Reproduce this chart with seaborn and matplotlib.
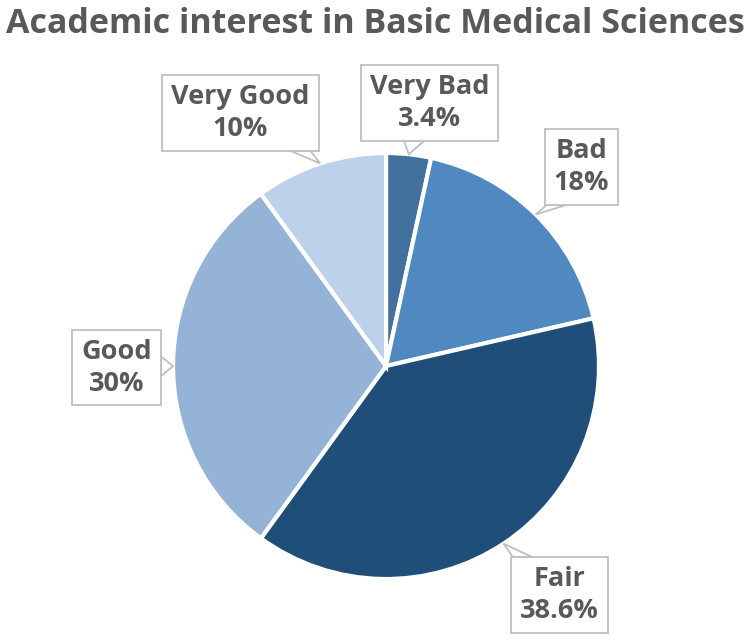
import numpy as np
import matplotlib
matplotlib.use("Agg")
import matplotlib.pyplot as plt
from matplotlib.patches import Polygon
import seaborn as sns

# slices, clockwise from 12 o'clock
categories = ["Very Bad", "Bad", "Fair", "Good", "Very Good"]
shares = [3.4, 18, 38.6, 30, 10]
pct_labels = ["3.4%", "18%", "38.6%", "30%", "10%"]
colors = ["#41719C", "#5089C0", "#1F4E79", "#95B3D7", "#BDD1EA"]

# callout box centres (data units, pie radius = 1)
box_pos = [(0.204, 1.235), (0.918, 0.935), (0.815, -1.077), (-1.265, -0.007), (-0.683, 1.188)]

TEXT = "#595959"
EDGE = "#BFBFBF"


def pointer(ax, box, tip, half=10):
    # triangle from the box side facing the tip, in pixels
    cx, cy = (box.x0 + box.x1) / 2, (box.y0 + box.y1) / 2
    hw, hh = box.width / 2, box.height / 2
    dx, dy = tip[0] - cx, tip[1] - cy
    tx = hw / abs(dx) if dx else np.inf
    ty = hh / abs(dy) if dy else np.inf
    if tx < ty:
        x = box.x1 if dx > 0 else box.x0
        y = np.clip(cy + tx * dy, box.y0 + half + 2, box.y1 - half - 2)
        base = [(x, y - half), (x, y + half)]
    else:
        y = box.y1 if dy > 0 else box.y0
        x = np.clip(cx + ty * dx, box.x0 + half + 2, box.x1 - half - 2)
        base = [(x - half, y), (x + half, y)]
    pts = ax.transData.inverted().transform(base + [tip])
    ax.add_patch(Polygon(pts, closed=True, fc="white", ec=EDGE, lw=1.3,
                         zorder=2, clip_on=False))


def main():
    sns.set_theme(style="white")
    plt.rcParams['font.family'] = ['Open Sans', 'DejaVu Sans']

    fig = plt.figure(figsize=(7.5, 6.4), dpi=100)
    # square axes so one data unit = 213 px
    ax = fig.add_axes([0.2307, 0.0953, 0.568, 0.6656])
    wedges, _ = ax.pie(shares, colors=colors, startangle=90, counterclock=False,
                       wedgeprops=dict(edgecolor="white", linewidth=3))
    ax.set_xlim(-1, 1)
    ax.set_ylim(-1, 1)
    ax.set_aspect("equal")
    ax.axis("off")

    labels = []
    for w, cat, lab, (bx, by) in zip(wedges, categories, pct_labels, box_pos):
        t = ax.text(bx, by, f"{cat}\n{lab}", ha="center", va="center",
                    fontsize=19.5, fontweight="bold", color=TEXT, linespacing=1.3,
                    zorder=3, clip_on=False,
                    bbox=dict(boxstyle="square,pad=0.33", fc="white", ec=EDGE, lw=1.3))
        mid = np.deg2rad((w.theta1 + w.theta2) / 2)
        labels.append((t, (np.cos(mid), np.sin(mid))))

    fig.text(0.5, 0.963, "Academic interest in Basic Medical Sciences",
             ha="center", va="center", fontsize=24.5, fontweight="bold", color=TEXT)

    fig.canvas.draw()
    for t, tip in labels:
        box = t.get_bbox_patch().get_window_extent()
        pointer(ax, box, ax.transData.transform(tip))

    plt.savefig("out.png", dpi=100)
    plt.close()


if __name__ == "__main__":
    main()
